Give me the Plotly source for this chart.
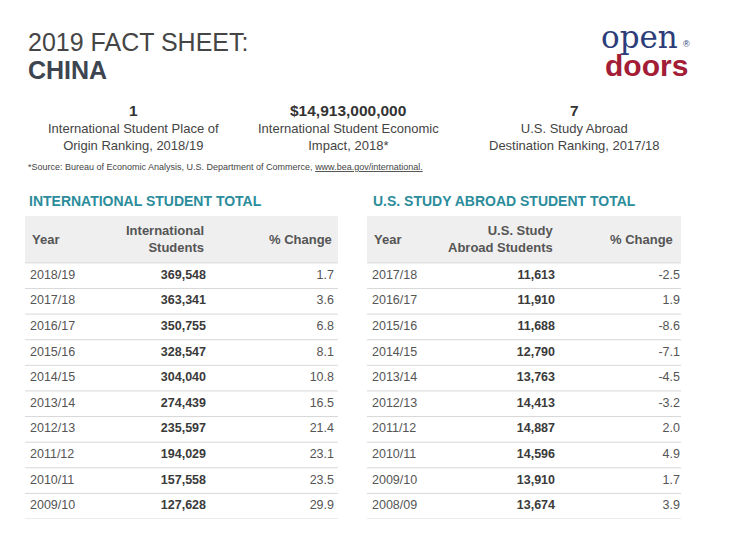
import plotly.graph_objects as go

# international students from China in the U.S.
intl_years = ["2018/19", "2017/18", "2016/17", "2015/16", "2014/15",
              "2013/14", "2012/13", "2011/12", "2010/11", "2009/10"]
intl_students = [369548, 363341, 350755, 328547, 304040,
                 274439, 235597, 194029, 157558, 127628]
intl_change = [1.7, 3.6, 6.8, 8.1, 10.8, 16.5, 21.4, 23.1, 23.5, 29.9]

# U.S. students studying abroad in China
abroad_years = ["2017/18", "2016/17", "2015/16", "2014/15", "2013/14",
                "2012/13", "2011/12", "2010/11", "2009/10", "2008/09"]
abroad_students = [11613, 11910, 11688, 12790, 13763,
                   14413, 14887, 14596, 13910, 13674]
abroad_change = [-2.5, 1.9, -8.6, -7.1, -4.5, -3.2, 2.0, 4.9, 1.7, 3.9]

# headline numbers
stat_values = ["1", "$14,913,000,000", "7"]
stat_labels = ["International Student Place of<br>Origin Ranking, 2018/19",
               "International Student Economic<br>Impact, 2018*",
               "U.S. Study Abroad<br>Destination Ranking, 2017/18"]

# the page body adds an 8px margin, so the figure is a bit smaller
PAD = 8
W, H = 750 - PAD, 537 - PAD
FONT = "Liberation Sans, Arial, sans-serif"
TEAL = "#2b8c9b"
GREY = "#555555"


def px(x):
    return (x - PAD) / W


def py(y):
    return 1 - (y - PAD) / H


def note(x, y, text, size, color, family=FONT, xanchor="left", align="left"):
    fig.add_annotation(x=px(x), y=py(y), xref="paper", yref="paper", text=text,
                       xanchor=xanchor, yanchor="middle", align=align, showarrow=False,
                       borderpad=0, font=dict(family=family, size=size, color=color))


fig = go.Figure()

tables = [
    ("x", intl_years, intl_students, intl_change, "International<br>Students", 181, 309, 309),
    ("x2", abroad_years, abroad_students, abroad_change, "U.S. Study<br>Abroad Students", 188, 313, 308),
]

for xa, years, students, change, head, col2, col3, hcol3 in tables:
    rows = list(range(len(years)))
    fig.add_trace(go.Scatter(
        x=[5] * len(rows), y=rows, text=years, mode="text",
        textposition="middle right", xaxis=xa, yaxis="y",
        textfont=dict(family=FONT, size=12.5, color=GREY), hoverinfo="skip"))
    fig.add_trace(go.Scatter(
        x=[col2] * len(rows), y=rows, text=[f"<b>{v:,}</b>" for v in students],
        mode="text", textposition="middle left", xaxis=xa, yaxis="y",
        textfont=dict(family=FONT, size=12.5, color="#3a3a3a"), hoverinfo="skip"))
    fig.add_trace(go.Scatter(
        x=[col3] * len(rows), y=rows, text=[f"{v:.1f}" for v in change],
        mode="text", textposition="middle left", xaxis=xa, yaxis="y",
        textfont=dict(family=FONT, size=12.5, color=GREY), hoverinfo="skip"))

    ref = xa + " domain"
    fig.add_shape(type="rect", xref=ref, yref="y", x0=0, x1=1, y0=-2.33, y1=-0.5,
                  fillcolor="#efefef", line_width=0, layer="below")
    for i in range(-1, len(years)):
        fig.add_shape(type="line", xref=ref, yref="y", x0=0, x1=1, y0=i + 0.5, y1=i + 0.5,
                      line=dict(color="#d8d8d8", width=1), layer="below")

    hfont = dict(family=FONT, size=13, color=GREY)
    fig.add_annotation(x=5, y=-1.42, xref=xa, yref="y", text="<b>Year</b>",
                       xanchor="left", yanchor="middle", showarrow=False, font=hfont)
    fig.add_annotation(x=col2, y=-1.42, xref=xa, yref="y", text=f"<b>{head}</b>",
                       xanchor="right", yanchor="middle", align="right", showarrow=False, font=hfont)
    fig.add_annotation(x=hcol3, y=-1.42, xref=xa, yref="y", text="<b>% Change</b>",
                       xanchor="right", yanchor="middle", showarrow=False, font=hfont)

# title block
note(27, 41.5, "2019 FACT SHEET:", 25, "#454545")
note(27, 69.5, "<b>CHINA</b>", 25, "#3c4550")

# logo
note(639, 37, "open", 31, "#2c3d7a", family="DejaVu Serif, serif", xanchor="center")
note(686, 44, "®", 9, "#2c3d7a", xanchor="center")
note(646, 65.5, "<b>doors</b>", 30, "#a21d35", xanchor="center")

# headline stats
for cx, val, lab in zip([133, 348, 574], stat_values, stat_labels):
    note(cx, 111, f"<b>{val}</b>", 15.5, "#333333", xanchor="center")
    note(cx, 137, lab, 13, "#444444", xanchor="center", align="center")

note(27, 167, "*Source: Bureau of Economic Analysis, U.S. Department of Commerce, "
     "<u>www.bea.gov/international.</u>", 9, "#444444")

# table titles
note(28, 201, "<b>INTERNATIONAL STUDENT TOTAL</b>", 14, TEAL)
note(372, 201, "<b>U.S. STUDY ABROAD STUDENT TOTAL</b>", 14, TEAL)

hidden = dict(showgrid=False, zeroline=False, showticklabels=False, ticks="", fixedrange=True)
fig.update_layout(
    width=W, height=H, margin=dict(l=0, r=0, t=0, b=0),
    paper_bgcolor="white", plot_bgcolor="white", showlegend=False,
    xaxis=dict(domain=[px(25), px(338)], range=[0, 313], anchor="y", **hidden),
    xaxis2=dict(domain=[px(367), px(681)], range=[0, 314], anchor="y", **hidden),
    yaxis=dict(domain=[py(519), py(216)], range=[9.5, -2.33], **hidden),
)

fig.write_html("out.html")
